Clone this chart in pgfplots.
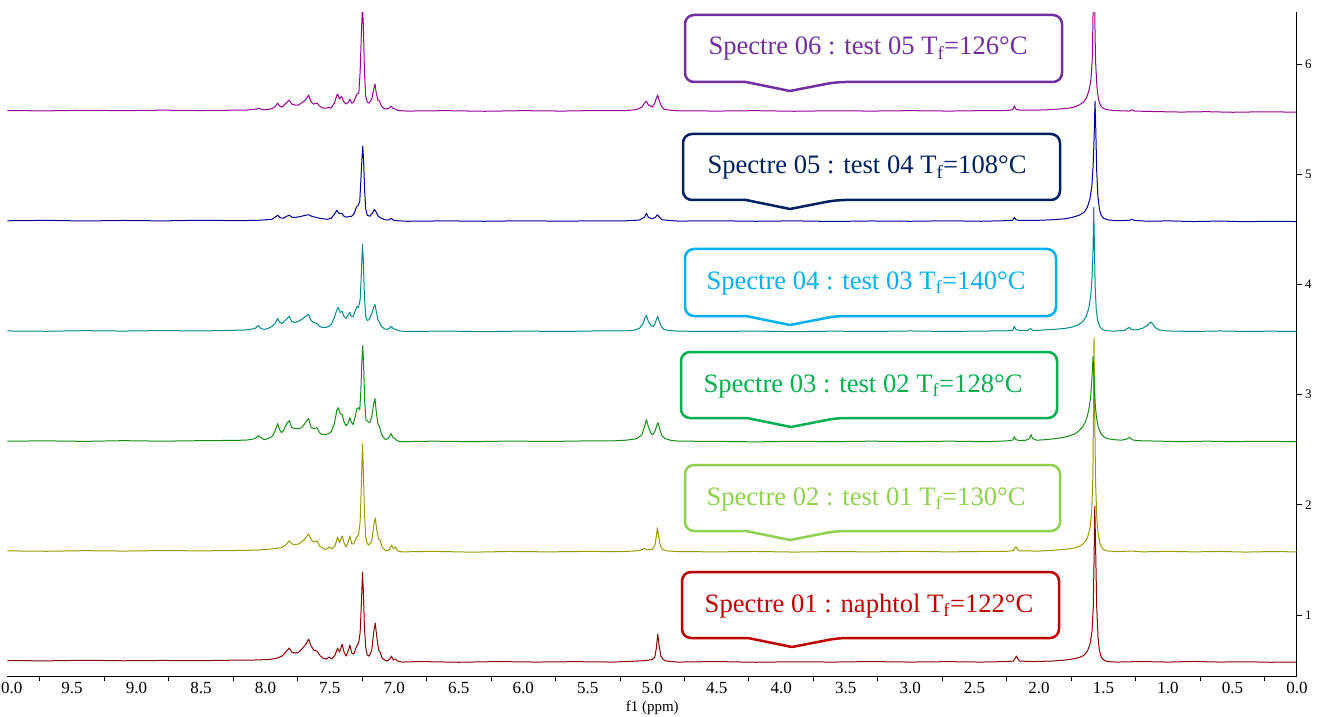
\documentclass[border=0pt]{standalone}
\usepackage{fontspec}
\setmainfont{Liberation Serif}
\usepackage{pgfplots}
\pgfplotsset{compat=1.18}
\definecolor{s1}{RGB}{139,0,0}
\definecolor{s2}{RGB}{153,153,0}
\definecolor{s3}{RGB}{20,140,20}
\definecolor{s4}{RGB}{0,139,139}
\definecolor{s5}{RGB}{0,0,150}
\definecolor{s6}{RGB}{150,0,150}
\definecolor{b1}{RGB}{192,0,0}
\definecolor{b2}{RGB}{146,208,80}
\definecolor{b3}{RGB}{0,176,80}
\definecolor{b4}{RGB}{0,176,240}
\definecolor{b5}{RGB}{0,32,96}
\definecolor{b6}{RGB}{112,48,160}
\newcommand{\callout}[8]{%
\draw[#1, line width=2.5pt, fill=white, rounded corners=9pt] (#2,{(#4+#5)/2}) -- (#2,#4) -- (#3,#4) -- (#3,#5) -- ({#6+46},#5) [sharp corners] -- (#6,{#5+9}) -- ({#6-44},#5) [rounded corners=9pt] -- (#2,#5) -- cycle;
\node[text=#1, anchor=base, inner sep=0pt, font=\fontsize{26.6pt}{30pt}\selectfont] at (#7,{#4+40}) {#8};}
\begin{document}
\begin{tikzpicture}
\begin{axis}[
  at={(7.5pt,40pt)}, anchor=south west,
  scale only axis, width=1289.5pt, height=664pt,
  xmin=0, xmax=10, x dir=reverse,
  ymin=0.4465, ymax=6.472,
  axis x line=bottom, axis y line=right,
  axis line style={-, line width=1pt, black},
  tick align=outside,
  xtick={0,0.5,1,1.5,2,2.5,3,3.5,4,4.5,5,5.5,6,6.5,7,7.5,8,8.5,9,9.5,10},
  xticklabels={0.0,0.5,1.0,1.5,2.0,2.5,3.0,3.5,4.0,4.5,5.0,5.5,6.0,6.5,7.0,7.5,8.0,8.5,9.0,9.5,10.0},
  minor xtick={0.25,0.75,1.25,1.75,2.25,2.75,3.25,3.75,4.25,4.75,5.25,5.75,6.25,6.75,7.25,7.75,8.25,8.75,9.25,9.75},
  every major x tick/.append style={draw=none},
  minor tick length=5pt, major tick length=5pt,
  every tick/.append style={black, line width=1pt},
  ytick={1,2,3,4,5,6}, yticklabels={1,2,3,4,5,6},
  xticklabel style={font=\fontsize{17pt}{17pt}\selectfont, inner sep=1pt},
  yticklabel style={font=\fontsize{13pt}{13pt}\selectfont, inner sep=3pt},
  xlabel={f1 (ppm)},
  xlabel style={at={(axis description cs:0.5,0)}, anchor=center, yshift=-32pt, font=\fontsize{15pt}{15pt}\selectfont},
  clip=true,
  every axis plot/.append style={line width=1pt, line join=round},
]
% Spectrum 1
\addplot[s1] table[y expr=\thisrowno{1}/110.2+0.573] {
x h
10.0 1.5
9.7 1.2
9.4 1.8
9.1 1.3
8.8 1.6
8.5 1.4
8.3 1.8
8.1 2.0
7.98 2.5
7.92 3.5
7.87 6
7.835 11
7.815 14
7.795 10
7.77 9
7.74 10
7.71 14
7.685 18
7.665 23
7.645 16
7.625 12
7.60 11
7.58 7
7.555 4
7.53 3
7.505 5
7.485 3
7.46 7
7.44 14
7.425 10
7.405 18
7.39 10
7.375 6
7.355 12
7.345 17
7.33 9
7.315 8
7.295 15
7.275 20
7.265 30
7.255 60
7.247 90
7.24 70
7.232 35
7.222 15
7.21 7
7.195 6
7.175 12
7.16 30
7.148 39
7.136 25
7.122 12
7.11 10
7.095 4
7.075 2
7.055 1
7.035 3
7.022 6
7.008 2
6.99 3
6.975 1
6.94 0
6.8 0.5
6.5 -0.2
6.2 0.5
5.9 0
5.6 0.4
5.3 0
5.15 0.8
5.05 1.5
5.0 2.5
4.98 5
4.968 14
4.957 28
4.946 16
4.933 6
4.915 2.5
4.89 1
4.8 0
4.5 0.5
4.2 -0.2
3.9 0.3
3.6 0
3.3 0.5
3.0 0
2.7 0.4
2.45 0
2.25 0.5
2.2 1
2.185 4
2.175 6
2.165 3
2.15 1
2.05 0.5
1.9 1
1.8 2
1.72 3.5
1.68 5
1.65 7
1.625 11
1.605 18
1.59 30
1.58 55
1.574 100
1.568 156
1.561 110
1.553 55
1.543 25
1.533 12
1.518 5
1.498 2
1.47 0.5
1.4 0
1.2 0.5
1.0 0
0.8 0.6
0.6 0
0.4 0.3
0.2 -0.2
0.0 0
};
% Spectrum 2
\addplot[s2] table[y expr=\thisrowno{1}/110.2+1.573] {
x h
10.0 1.0
9.7 0.6
9.4 1.2
9.1 0.8
8.8 1.3
8.5 1.0
8.2 1.4
8.05 1.8
7.95 3
7.88 4
7.84 7
7.815 11
7.795 8
7.77 7
7.74 8
7.70 12
7.665 18
7.645 12
7.625 10
7.60 11
7.58 6
7.55 3
7.525 2.5
7.505 5
7.485 3
7.46 6
7.44 15
7.425 9
7.405 16
7.39 9
7.375 5
7.355 11
7.345 16
7.33 8
7.315 8
7.295 14
7.278 17
7.265 30
7.255 70
7.247 108
7.24 80
7.232 40
7.222 15
7.21 8
7.195 7
7.175 11
7.16 26
7.148 34
7.136 22
7.122 13
7.11 12
7.095 5
7.075 2
7.055 1
7.035 3
7.022 7
7.008 3
6.99 5
6.975 1
6.94 0
6.7 0.5
6.4 -0.3
6.1 0.4
5.8 0
5.5 0.5
5.25 0.2
5.12 1
5.08 2
5.06 3.5
5.04 2
5.0 2.5
4.98 6
4.97 14
4.96 24
4.95 15
4.937 6
4.92 2.5
4.89 1
4.8 0.3
4.5 0
4.2 0.4
3.9 -0.2
3.6 0.3
3.3 0
3.0 0.5
2.7 0
2.45 0.4
2.25 0.6
2.2 1.2
2.188 4
2.178 5
2.168 2.5
2.15 1
2.0 0.8
1.9 1.5
1.8 2.5
1.72 4
1.68 6
1.65 9
1.625 14
1.605 24
1.592 40
1.583 75
1.578 140
1.574 214
1.569 140
1.562 70
1.552 32
1.54 16
1.525 7
1.505 3
1.48 1
1.4 0.3
1.28 0.8
1.2 0
1.0 0.5
0.8 0
0.6 0.4
0.4 -0.2
0.2 0.3
0.0 0
};
% Spectrum 3
\addplot[s3] table[y expr=\thisrowno{1}/110.2+2.573] {
x h
10.0 0.5
9.7 0.8
9.4 0.3
9.1 1.0
8.8 0.5
8.5 1.0
8.3 1.2
8.15 1.5
8.08 3
8.055 6
8.035 4
8.01 2
7.98 3
7.95 5
7.93 9
7.905 18
7.89 12
7.875 9
7.86 11
7.835 18
7.815 21
7.795 14
7.77 13
7.745 13
7.72 14
7.70 17
7.68 21
7.665 23
7.645 14
7.625 13
7.60 14
7.58 9
7.56 7
7.535 7
7.51 8
7.49 10
7.465 18
7.445 32
7.435 34
7.42 28
7.405 27
7.39 20
7.375 16
7.36 18
7.345 24
7.335 20
7.32 17
7.305 24
7.29 33
7.28 34
7.268 32
7.26 50
7.252 80
7.245 96
7.238 75
7.23 40
7.22 22
7.205 20
7.19 19
7.175 25
7.16 38
7.15 43
7.14 30
7.128 18
7.115 15
7.10 8
7.085 4
7.065 2
7.045 4
7.025 8
7.01 4
6.995 3
6.98 1
6.95 0
6.7 0.5
6.4 0
6.1 0.6
5.8 0.2
5.5 0.8
5.3 0.8
5.2 1.5
5.12 3
5.08 7
5.06 15
5.045 22
5.03 15
5.01 8
4.995 7
4.98 10
4.965 16
4.955 19
4.94 12
4.925 6
4.9 3
4.86 1.5
4.8 0.5
4.5 0.3
4.2 -0.2
3.9 0.4
3.6 0
3.3 0.5
3.0 0
2.7 0.5
2.4 0
2.25 0.8
2.205 1.5
2.192 5
2.18 2
2.15 1
2.1 1.5
2.075 3
2.062 7
2.05 3
2.02 1.5
1.95 2
1.88 3
1.82 4
1.76 6
1.72 8
1.69 11
1.66 15
1.64 20
1.625 26
1.61 35
1.60 45
1.59 63
1.582 85
1.574 65
1.565 38
1.555 24
1.54 14
1.52 8
1.5 5
1.47 3
1.42 2
1.36 1.5
1.32 2.5
1.30 4.5
1.28 2
1.24 1
1.1 0.6
0.9 0
0.7 0.5
0.5 0
0.3 0.4
0.0 0
};
% Spectrum 4
\addplot[s4] table[y expr=\thisrowno{1}/110.2+3.573] {
x h
10.0 0.5
9.7 0.2
9.4 0.8
9.1 0.4
8.8 0.9
8.5 0.5
8.3 1.0
8.15 1.5
8.08 3
8.055 6
8.035 3
8.01 2
7.98 3
7.95 5
7.925 8
7.905 13
7.89 9
7.87 8
7.84 12
7.815 15
7.795 10
7.77 9
7.745 10
7.72 12
7.69 15
7.665 17
7.645 11
7.625 9
7.60 8
7.58 5
7.555 4
7.53 4
7.51 5
7.49 7
7.465 14
7.445 22
7.435 24
7.42 19
7.405 20
7.39 15
7.375 13
7.36 16
7.345 19
7.335 15
7.32 15
7.305 20
7.29 25
7.278 24
7.265 32
7.255 60
7.247 87
7.24 70
7.232 35
7.222 15
7.21 11
7.195 12
7.175 18
7.16 24
7.15 27
7.14 20
7.128 12
7.115 9
7.10 5
7.08 3
7.06 2
7.04 3
7.025 5
7.01 3
6.99 2
6.96 0.5
6.9 0
6.6 0.4
6.3 -0.2
6.0 0.4
5.7 0
5.45 0.5
5.25 0.5
5.15 1
5.1 3
5.07 8
5.055 14
5.045 16
5.03 10
5.01 6
4.995 5
4.98 7
4.968 12
4.957 15
4.945 10
4.93 5
4.91 2
4.87 1
4.8 0.3
4.5 0
4.2 0.4
3.9 -0.2
3.6 0.3
3.3 0
3.0 0.5
2.7 0
2.45 0.4
2.25 0.6
2.205 1.2
2.192 5
2.18 2
2.15 1
2.09 1
2.065 3
2.05 1
2.0 1.2
1.9 2
1.8 3
1.74 4.5
1.69 7
1.66 10
1.635 15
1.615 23
1.60 35
1.59 52
1.582 80
1.576 124
1.571 85
1.565 45
1.557 22
1.545 11
1.53 5
1.51 2
1.48 0.8
1.42 0.3
1.34 1
1.315 3
1.30 4
1.285 2
1.25 1.5
1.2 3
1.16 6
1.135 9.5
1.12 8
1.10 4
1.07 1.5
1.0 0.5
0.8 0
0.6 0.5
0.4 0
0.2 0.3
0.0 0
};
% Spectrum 5
\addplot[s5] table[y expr=\thisrowno{1}/110.2+4.573] {
x h
10.0 0.5
9.7 0.9
9.4 0.3
9.1 0.8
8.8 0.4
8.5 1.0
8.2 0.6
8.05 1.0
7.95 2
7.925 4
7.905 6
7.885 3.5
7.86 3
7.835 5
7.815 6
7.79 4
7.76 4
7.72 5
7.69 6
7.665 6.5
7.64 5
7.61 4
7.58 3
7.55 2.5
7.52 2
7.49 3
7.465 7
7.445 11
7.43 8
7.41 8
7.39 5
7.37 4
7.35 5
7.33 5
7.31 8
7.295 14
7.28 16
7.268 20
7.258 45
7.25 65
7.245 75
7.238 60
7.23 30
7.222 12
7.21 6
7.19 5
7.17 8
7.155 12
7.14 9
7.125 5
7.10 3
7.07 1.5
7.04 1.5
7.025 3
7.005 1
6.97 0.5
6.9 0
6.6 0.4
6.3 0
6.0 0.5
5.7 0.1
5.4 0.5
5.2 0.5
5.1 1.2
5.06 4
5.045 8
5.03 4
5.0 2.5
4.975 4
4.96 6.5
4.945 4
4.92 1.5
4.87 0.8
4.8 0.2
4.5 0.5
4.2 0
3.9 0.4
3.6 -0.2
3.3 0.3
3.0 0
2.7 0.5
2.45 0
2.25 0.6
2.205 1
2.192 4
2.18 1.5
2.15 0.8
2.0 1
1.9 1.5
1.8 2.5
1.74 4
1.69 6
1.65 9
1.626 14
1.606 22
1.591 35
1.581 55
1.573 85
1.566 120
1.560 90
1.553 50
1.544 25
1.532 12
1.518 6
1.5 3
1.47 1.5
1.4 0.5
1.3 1
1.28 2
1.26 0.8
1.15 0
1.0 0.4
0.8 -0.3
0.6 0.2
0.4 -0.4
0.2 0
0.0 -0.3
};
% Spectrum 6
\addplot[s6] table[y expr=\thisrowno{1}/110.2+5.573] {
x h
10.0 0.5
9.7 0.2
9.4 0.8
9.1 0.4
8.8 0.9
8.5 0.5
8.3 0.8
8.15 1
8.07 2
8.05 3
8.03 1.5
7.98 1.5
7.94 3
7.92 5
7.905 8
7.89 5
7.87 4
7.84 8
7.815 11
7.795 7
7.77 6
7.745 6
7.72 8
7.69 11
7.665 16
7.645 9
7.625 7
7.60 8
7.58 5
7.555 3
7.53 3
7.51 3.5
7.49 3
7.465 8
7.445 16
7.44 17
7.425 12
7.41 15
7.395 10
7.375 7
7.355 9
7.345 12
7.33 8
7.315 9
7.30 14
7.29 17
7.275 18
7.265 40
7.255 80
7.247 105
7.24 85
7.232 40
7.222 15
7.21 9
7.195 8
7.175 12
7.16 22
7.15 27
7.14 18
7.128 11
7.115 10
7.10 5
7.08 2.5
7.06 2
7.04 3
7.025 5
7.01 2.5
6.99 2
6.97 0.5
6.9 0
6.6 0.4
6.3 -0.2
6.0 0.4
5.7 0
5.45 0.5
5.2 0.5
5.12 1.5
5.08 4
5.06 8
5.045 10
5.03 6
5.0 4
4.98 8
4.968 13
4.958 16
4.946 11
4.93 5
4.91 2
4.87 1
4.8 0.3
4.5 0
4.2 0.4
3.9 -0.2
3.6 0.3
3.3 0
3.0 0.4
2.7 0
2.45 0.4
2.25 0.6
2.205 1.2
2.192 5
2.18 2
2.15 1
2.0 1
1.9 1.5
1.8 2.5
1.74 3.5
1.69 6
1.655 9
1.63 14
1.61 22
1.598 32
1.588 50
1.582 93
1.578 250
1.572 250
1.568 93
1.562 50
1.552 25
1.54 12
1.525 6
1.505 3
1.48 1.5
1.42 0.5
1.3 0
1.28 1.2
1.26 0
1.1 -0.5
0.9 -1
0.7 -0.6
0.5 -1.2
0.3 -0.8
0.0 -1
};
\end{axis}
\begin{scope}[x=1pt, y=-1pt, yshift=716pt]
\callout{b6}{685}{1062}{15}{82}{790}{868}{Spectre 06 : test 05 T\textsubscript{f}=126°C}
\callout{b5}{683}{1060}{134}{200}{790}{867}{Spectre 05 : test 04 T\textsubscript{f}=108°C}
\callout{b4}{685}{1056}{249}{316}{790}{866}{Spectre 04 : test 03 T\textsubscript{f}=140°C}
\callout{b3}{681}{1057}{352}{418}{791}{863}{Spectre 03 : test 02 T\textsubscript{f}=128°C}
\callout{b2}{685}{1060}{465}{531}{790}{866}{Spectre 02 : test 01 T\textsubscript{f}=130°C}
\callout{b1}{682}{1059}{572}{638}{792}{869}{Spectre 01 : naphtol T\textsubscript{f}=122°C}
\end{scope}
\pgfresetboundingbox
\path[use as bounding box] (0,0) rectangle (1321pt,716pt);
\end{tikzpicture}
\end{document}
